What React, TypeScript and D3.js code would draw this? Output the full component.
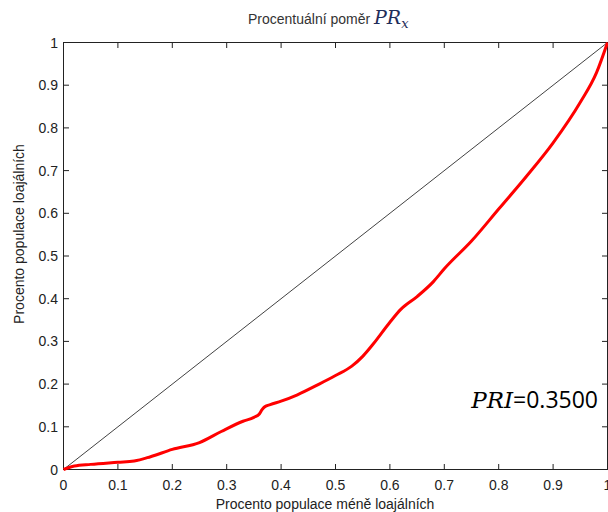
import React from "react";
import * as d3 from "d3";

const xTicks = [0, 0.1, 0.2, 0.3, 0.4, 0.5, 0.6, 0.7, 0.8, 0.9, 1];
const yTicks = [0, 0.1, 0.2, 0.3, 0.4, 0.5, 0.6, 0.7, 0.8, 0.9, 1];
const curveX = [0, 0.02, 0.05, 0.1, 0.13, 0.16, 0.2, 0.25, 0.29, 0.33, 0.35, 0.36, 0.365, 0.37, 0.38, 0.4, 0.43, 0.47, 0.5, 0.53, 0.55, 0.57, 0.6, 0.62, 0.65, 0.68, 0.7, 0.75, 0.8, 0.85, 0.9, 0.95, 0.98, 1];
const curveY = [0, 0.008, 0.012, 0.017, 0.02, 0.03, 0.047, 0.063, 0.089, 0.113, 0.122, 0.13, 0.14, 0.147, 0.152, 0.16, 0.175, 0.2, 0.22, 0.242, 0.265, 0.295, 0.345, 0.375, 0.405, 0.44, 0.47, 0.535, 0.61, 0.685, 0.765, 0.86, 0.93, 1];
const diagX = [0, 1];
const diagY = [0, 1];

export default function App() {
  const W = 608, H = 512;
  const x = d3.scaleLinear().domain([0, 1]).range([63.5, 607.5]);
  const y = d3.scaleLinear().domain([0, 1]).range([469.5, 42.5]);
  const line = d3.line<number>().x((d, i) => x(curveX[i])).y((d) => y(d)).curve(d3.curveMonotoneX);
  const dline = d3.line<number>().x((d, i) => x(diagX[i])).y((d) => y(d));
  const tickFont = "Liberation Sans, Arial, sans-serif";
  return (
    <svg width={W} height={H} style={{ position: "absolute", left: 0, top: 0 }}>
      <rect x={0} y={0} width={W} height={H} fill="#fff" />
      <text x={248} y={24} fontFamily="Liberation Sans, Arial, sans-serif" fontSize={14} fill="#333">
        Procentuální poměr{" "}
        <tspan fontFamily="DejaVu Serif, serif" fontStyle="italic" fontSize={19} fill="#1f2d5a">PR</tspan>
        <tspan fontFamily="DejaVu Serif, serif" fontStyle="italic" fontSize={13} fill="#1f2d5a" dy={4}>x</tspan>
      </text>
      <rect x={63.5} y={42.5} width={544} height={427} fill="none" stroke="#222" strokeWidth={1} />
      {xTicks.map((t) => (
        <g key={"x" + t}>
          <line x1={x(t)} x2={x(t)} y1={469.5} y2={464} stroke="#222" />
          <line x1={x(t)} x2={x(t)} y1={42.5} y2={48} stroke="#222" />
          <text x={x(t)} y={490} fontFamily={tickFont} fontSize={14} fill="#222" textAnchor="middle">{t}</text>
        </g>
      ))}
      {yTicks.map((t) => (
        <g key={"y" + t}>
          <line x1={63.5} x2={69} y1={y(t)} y2={y(t)} stroke="#222" />
          <line x1={607.5} x2={602} y1={y(t)} y2={y(t)} stroke="#222" />
          <text x={58} y={y(t) + 5} fontFamily={tickFont} fontSize={14} fill="#222" textAnchor="end">{t}</text>
        </g>
      ))}
      <path d={dline(diagY) || ""} fill="none" stroke="#111" strokeWidth={0.8} />
      <path d={line(curveY) || ""} fill="none" stroke="#ff0000" strokeWidth={3} strokeLinejoin="round" />
      <text transform="translate(24,234) rotate(-90)" fontFamily={tickFont} fontSize={14} fill="#222" textAnchor="middle">
        Procento populace loajálních
      </text>
      <text x={325} y={509} fontFamily={tickFont} fontSize={14} fill="#222" textAnchor="middle">
        Procento populace méně loajálních
      </text>
      <text x={598} y={408} textAnchor="end" fontSize={23} fill="#000">
        <tspan fontFamily="DejaVu Serif, serif" fontStyle="italic">PRI</tspan>
        <tspan fontFamily="Open Sans, Liberation Sans, sans-serif">=0.3500</tspan>
      </text>
    </svg>
  );
}
